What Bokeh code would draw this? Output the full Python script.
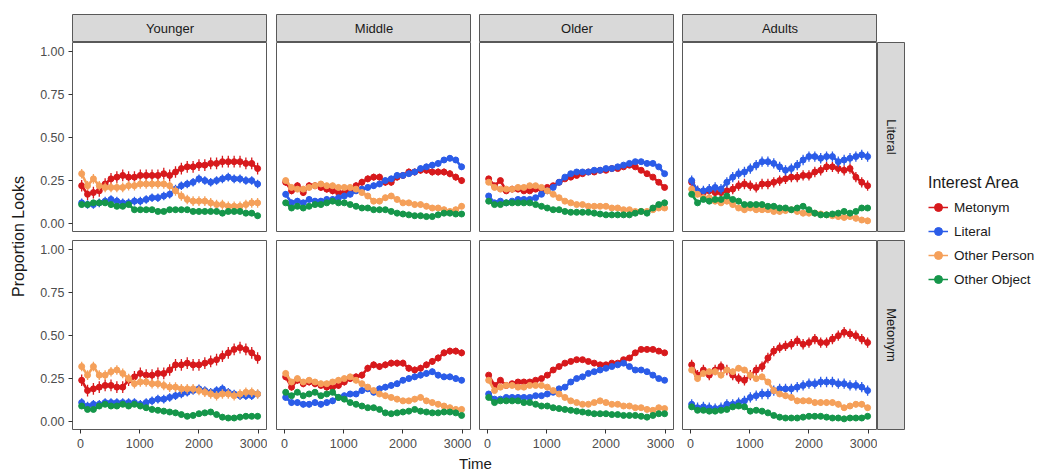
from math import pi
from bokeh.plotting import figure
from bokeh.layouts import row, column
from bokeh.models import Range1d, FixedTicker, NumeralTickFormatter, Legend, LegendItem, Spacer
from bokeh.core.properties import value
from bokeh.embed import file_html
from bokeh.resources import INLINE

# ---------------- data ----------------
ages = ["Younger", "Middle", "Older", "Adults"]
conditions = ["Literal", "Metonym"]
areas = ["Metonym", "Literal", "Other Person", "Other Object"]
colors = ["#D7191C", "#2B5CE8", "#F5A05A", "#15964A"]
times = [20 + 99 * i for i in range(31)]
x_ticks = [0, 1000, 2000, 3000]
y_ticks = [0, 0.25, 0.5, 0.75, 1.0]

# Literal condition
yl_met = [.22,.17,.18,.19,.23,.26,.27,.28,.27,.27,.28,.28,.28,.28,.29,.28,.30,.32,.33,.33,.34,.34,.35,.35,.36,.36,.36,.36,.35,.35,.32]
yl_lit = [.12,.11,.11,.12,.13,.14,.13,.12,.12,.13,.13,.14,.15,.15,.16,.17,.20,.22,.23,.24,.26,.25,.24,.25,.26,.27,.26,.26,.25,.25,.23]
yl_per = [.29,.22,.26,.22,.21,.21,.21,.21,.22,.22,.23,.23,.23,.23,.23,.22,.19,.16,.14,.13,.13,.13,.12,.11,.11,.10,.10,.10,.11,.12,.12]
yl_obj = [.11,.11,.12,.12,.12,.11,.10,.10,.11,.08,.08,.08,.08,.07,.07,.08,.08,.08,.08,.07,.07,.07,.07,.07,.06,.07,.07,.07,.06,.06,.045]

ml_met = [.24,.19,.22,.18,.22,.22,.21,.20,.19,.18,.18,.19,.22,.24,.26,.27,.27,.24,.24,.27,.28,.30,.30,.31,.31,.30,.30,.30,.29,.27,.25]
ml_lit = [.17,.12,.13,.12,.14,.13,.13,.14,.14,.15,.16,.17,.19,.20,.21,.22,.23,.25,.26,.28,.28,.29,.30,.32,.33,.34,.35,.37,.38,.37,.33]
ml_per = [.25,.21,.20,.20,.21,.22,.23,.22,.22,.21,.21,.21,.20,.18,.16,.13,.13,.15,.16,.14,.12,.12,.11,.11,.10,.09,.09,.08,.07,.08,.10]
ml_obj = [.12,.09,.10,.09,.10,.11,.11,.12,.13,.12,.12,.11,.10,.09,.09,.08,.08,.08,.07,.06,.055,.05,.045,.045,.04,.04,.05,.06,.06,.055,.055]

ol_met = [.26,.22,.25,.19,.20,.20,.19,.19,.20,.20,.21,.22,.24,.26,.27,.28,.29,.30,.30,.31,.31,.32,.32,.33,.34,.33,.31,.29,.27,.24,.21]
ol_lit = [.16,.12,.13,.12,.13,.14,.14,.14,.15,.17,.19,.21,.24,.27,.29,.30,.30,.30,.31,.31,.32,.32,.33,.34,.35,.36,.36,.35,.35,.33,.29]
ol_per = [.24,.21,.20,.20,.20,.21,.21,.22,.22,.21,.19,.17,.15,.13,.12,.11,.11,.10,.10,.10,.10,.09,.09,.08,.08,.07,.07,.07,.08,.09,.09]
ol_obj = [.13,.11,.11,.12,.12,.12,.12,.12,.11,.10,.09,.08,.08,.07,.065,.065,.065,.065,.06,.055,.05,.05,.05,.05,.05,.06,.07,.06,.09,.11,.12]

al_met = [.24,.19,.18,.19,.18,.18,.19,.20,.22,.23,.22,.21,.23,.23,.24,.25,.26,.27,.27,.28,.28,.30,.31,.33,.33,.32,.31,.32,.27,.24,.22]
al_lit = [.25,.19,.19,.20,.21,.20,.24,.27,.29,.30,.32,.34,.36,.36,.35,.33,.31,.32,.34,.37,.39,.39,.38,.39,.39,.36,.37,.38,.39,.40,.39]
al_per = [.20,.17,.15,.15,.13,.12,.13,.11,.09,.08,.09,.08,.08,.08,.07,.07,.075,.08,.07,.06,.06,.06,.055,.05,.045,.04,.035,.04,.03,.02,.015]
al_obj = [.17,.12,.14,.13,.14,.14,.16,.14,.13,.11,.11,.11,.11,.10,.10,.09,.09,.08,.09,.10,.08,.06,.05,.05,.055,.06,.07,.06,.07,.09,.09]

# Metonym condition
ym_met = [.24,.18,.19,.20,.21,.21,.20,.20,.24,.26,.28,.27,.27,.28,.28,.30,.33,.33,.34,.33,.33,.34,.35,.36,.38,.40,.42,.43,.42,.40,.37]
ym_lit = [.11,.09,.10,.10,.11,.11,.11,.11,.11,.11,.10,.11,.12,.13,.13,.14,.15,.16,.17,.18,.19,.18,.17,.18,.19,.17,.16,.15,.15,.15,.16]
ym_per = [.32,.27,.32,.27,.27,.29,.30,.28,.25,.22,.23,.23,.22,.22,.21,.20,.20,.19,.19,.19,.18,.17,.16,.15,.16,.16,.15,.16,.17,.17,.16]
ym_obj = [.09,.07,.07,.09,.10,.09,.09,.10,.09,.10,.09,.08,.07,.065,.06,.055,.05,.04,.03,.035,.045,.05,.055,.04,.025,.02,.02,.025,.03,.03,.03]

mm_met = [.26,.20,.24,.22,.23,.22,.21,.20,.20,.21,.23,.25,.26,.27,.31,.33,.32,.33,.34,.34,.34,.31,.30,.31,.33,.35,.37,.40,.41,.41,.40]
mm_lit = [.14,.11,.11,.10,.10,.11,.10,.11,.12,.14,.15,.16,.16,.18,.19,.17,.19,.20,.21,.22,.24,.25,.26,.27,.28,.29,.27,.26,.26,.25,.24]
mm_per = [.28,.23,.25,.23,.24,.23,.22,.22,.23,.24,.25,.26,.24,.22,.20,.18,.16,.15,.14,.13,.12,.12,.13,.14,.12,.11,.10,.09,.08,.07,.07]
mm_obj = [.17,.15,.17,.15,.16,.17,.15,.16,.17,.14,.13,.11,.10,.09,.08,.08,.07,.05,.045,.05,.055,.06,.07,.06,.055,.05,.05,.055,.055,.05,.035]

om_met = [.27,.21,.24,.21,.22,.23,.23,.23,.24,.25,.27,.30,.32,.34,.35,.36,.36,.35,.34,.33,.33,.34,.34,.36,.37,.40,.42,.42,.42,.41,.40]
om_lit = [.16,.13,.13,.14,.14,.14,.14,.14,.15,.15,.16,.17,.19,.20,.23,.25,.26,.28,.29,.30,.31,.32,.33,.34,.32,.30,.30,.29,.27,.25,.24]
om_per = [.24,.18,.20,.21,.21,.20,.20,.21,.21,.21,.20,.18,.16,.14,.12,.11,.10,.10,.11,.12,.11,.10,.10,.09,.09,.08,.08,.07,.065,.08,.075]
om_obj = [.14,.11,.12,.12,.12,.12,.11,.11,.10,.09,.09,.08,.075,.07,.065,.06,.055,.05,.045,.045,.045,.04,.04,.035,.035,.035,.03,.025,.035,.045,.045]

am_met = [.33,.27,.30,.27,.30,.32,.30,.27,.25,.24,.27,.30,.32,.37,.41,.43,.44,.45,.47,.45,.46,.48,.46,.46,.48,.50,.52,.51,.50,.48,.46]
am_lit = [.10,.08,.085,.08,.075,.08,.10,.10,.11,.12,.14,.15,.16,.16,.18,.19,.19,.19,.20,.21,.22,.22,.23,.23,.23,.22,.22,.21,.21,.20,.18]
am_per = [.30,.25,.28,.29,.29,.27,.30,.29,.31,.30,.27,.25,.26,.23,.18,.16,.15,.14,.12,.12,.12,.11,.11,.11,.11,.10,.08,.09,.10,.10,.08]
am_obj = [.085,.065,.065,.06,.06,.065,.07,.085,.09,.085,.06,.065,.06,.05,.035,.025,.02,.02,.02,.025,.03,.03,.03,.025,.02,.02,.015,.02,.02,.02,.03]

# standard errors (error-bar half widths) per age group, in area order
se_younger = [0.034, 0.025, 0.028, 0.015]
se_middle = [0.02, 0.018, 0.017, 0.012]
se_older = [0.013, 0.013, 0.012, 0.01]
se_adults = [0.03, 0.03, 0.018, 0.014]

series = {
    ("Younger", "Literal"): [yl_met, yl_lit, yl_per, yl_obj],
    ("Middle", "Literal"): [ml_met, ml_lit, ml_per, ml_obj],
    ("Older", "Literal"): [ol_met, ol_lit, ol_per, ol_obj],
    ("Adults", "Literal"): [al_met, al_lit, al_per, al_obj],
    ("Younger", "Metonym"): [ym_met, ym_lit, ym_per, ym_obj],
    ("Middle", "Metonym"): [mm_met, mm_lit, mm_per, mm_obj],
    ("Older", "Metonym"): [om_met, om_lit, om_per, om_obj],
    ("Adults", "Metonym"): [am_met, am_lit, am_per, am_obj],
}
se_table = {"Younger": se_younger, "Middle": se_middle, "Older": se_older, "Adults": se_adults}

# ---------------- style / layout ----------------
FONT = "Liberation Sans"
BORDER = "#595959"
STRIP = "#D9D9D9"
TXT = "#1A1A1A"

col_widths = [237, 204, 203, 203]
col_left = [42, 9, 8, 8]
row_heights = [198, 213]
row_bottom = [9, 24]
STRIP_W = 28
YLAB_W = 30
LEG_W = 132
TOTAL_H = 471
TIME_H = TOTAL_H - 42 - sum(row_heights)


def blank(w, h, **kw):
    opts = dict(width=w, height=h, output_backend="svg", toolbar_location=None,
                title=None, min_border=0, x_axis_location=None, y_axis_location=None,
                x_range=Range1d(0, 1), y_range=Range1d(0, 1),
                border_fill_color="white", outline_line_color=None)
    opts.update(kw)
    p = figure(**opts)
    p.grid.visible = False
    return p


# top strips
strip_figs = []
for c, age in enumerate(ages):
    s = blank(col_widths[c], 42, min_border_left=col_left[c], min_border_top=14,
              background_fill_color=STRIP, outline_line_color=BORDER)
    s.text(x=[0.5], y=[0.5], text=[age], text_align="center", text_baseline="middle",
           text_font=value(FONT), text_font_size="13px", text_color=TXT)
    strip_figs.append(s)
strip_row = row(*strip_figs, Spacer(width=STRIP_W, height=42))

panel_rows = []
for r, cond in enumerate(conditions):
    figs = []
    for c, age in enumerate(ages):
        p = figure(width=col_widths[c], height=row_heights[r], output_backend="svg",
                   toolbar_location=None, title=None,
                   x_range=Range1d(-135, 3157), y_range=Range1d(-0.047, 1.055),
                   min_border=0, min_border_left=col_left[c], min_border_bottom=row_bottom[r],
                   x_axis_location="below" if r == 1 else None,
                   y_axis_location="left" if c == 0 else None,
                   background_fill_color="white", border_fill_color="white",
                   outline_line_color=BORDER, outline_line_width=1)
        p.grid.visible = False
        for ax in p.axis:
            ax.axis_line_color = None
            ax.major_tick_line_color = "#333333"
            ax.major_tick_out = 4
            ax.major_tick_in = 0
            ax.minor_tick_line_color = None
            ax.major_label_text_color = "#4D4D4D"
            ax.major_label_text_font = FONT
            ax.major_label_text_font_size = "12.5px"
        if r == 1:
            p.xaxis.ticker = FixedTicker(ticks=x_ticks)
            p.xaxis.major_label_standoff = 5
        if c == 0:
            p.yaxis.ticker = FixedTicker(ticks=y_ticks)
            p.yaxis.formatter = NumeralTickFormatter(format="0.00")
            p.yaxis.major_label_standoff = 4
        se = se_table[age]
        for k, (vals, colr) in enumerate(zip(series[(age, cond)], colors)):
            lo = [v - se[k] for v in vals]
            hi = [v + se[k] for v in vals]
            p.segment(x0=times, y0=lo, x1=times, y1=hi, line_color=colr, line_width=1.3)
            p.line(times, vals, line_color=colr, line_width=2.6)
            p.scatter(times, vals, size=6, fill_color=colr, line_color=colr)
        figs.append(p)
    rs = blank(STRIP_W, row_heights[r], min_border_bottom=row_bottom[r],
               background_fill_color=STRIP, outline_line_color=BORDER)
    rs.text(x=[0.5], y=[0.5], text=[cond], angle=-pi / 2, text_align="center",
            text_baseline="middle", text_font=value(FONT), text_font_size="13px", text_color=TXT)
    figs.append(rs)
    panel_rows.append(row(*figs))

mid_w = sum(col_widths) + STRIP_W
time_fig = blank(mid_w, TIME_H)
time_fig.text(x=[(475 - YLAB_W) / mid_w], y=[0.0], text=["Time"], text_align="center",
              text_baseline="bottom", text_font=value(FONT), text_font_size="15px",
              text_color=TXT)

middle = column(strip_row, panel_rows[0], panel_rows[1], time_fig)

ylab = blank(YLAB_W, TOTAL_H)
ylab.text(x=[0.6], y=[0.499], text=["Proportion Looks"], angle=pi / 2, text_align="center",
          text_baseline="middle", text_font=value(FONT), text_font_size="16px", text_color=TXT)

lf = blank(LEG_W, TOTAL_H)
items = []
for name, colr in zip(areas, colors):
    rl = lf.line(x=[-5, -4], y=[-5, -5], line_color=colr, line_width=1.5)
    rp = lf.scatter(x=[-5], y=[-5], size=5, fill_color=colr, line_color=colr)
    items.append(LegendItem(label=name, renderers=[rl, rp]))
leg = Legend(items=items, location=(23, 182), title="Interest Area",
             title_text_font=FONT, title_text_font_size="16px", title_text_font_style="normal",
             title_text_color=TXT, title_standoff=5,
             label_text_font=FONT, label_text_font_size="13.5px", label_text_color=TXT,
             glyph_width=20, glyph_height=20, label_height=20, label_standoff=6,
             spacing=4, padding=0, margin=0, border_line_color=None, background_fill_alpha=0)
lf.add_layout(leg, "center")

layout = row(ylab, middle, lf)
open("out.html", "w").write(file_html(layout, INLINE))
